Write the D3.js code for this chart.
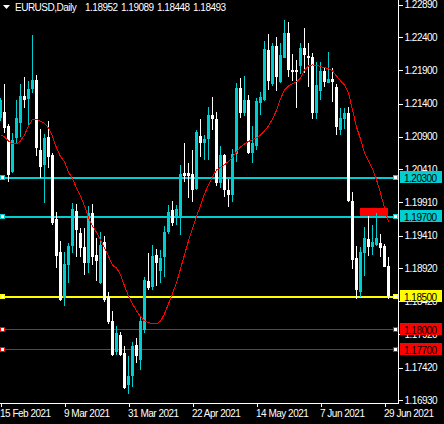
<!DOCTYPE html>
<html>
<head>
<meta charset="utf-8">
<script src="https://cdn.jsdelivr.net/npm/d3@7/dist/d3.min.js"></script>
<style>
  html, body { margin: 0; padding: 0; background: #000; }
  svg { display: block; }
  text { font-family: "Liberation Sans", Arial, sans-serif; font-size: 10px; letter-spacing: -0.5px; }
</style>
</head>
<body>
<svg id="chart" width="444" height="424"></svg>
<script>
// EURUSD daily bars, 15 Feb - 30 Jun 2021
var dates = [
  "2021-02-15","2021-02-16","2021-02-17","2021-02-18","2021-02-19","2021-02-22","2021-02-23","2021-02-24","2021-02-25","2021-02-26",
  "2021-03-01","2021-03-02","2021-03-03","2021-03-04","2021-03-05","2021-03-08","2021-03-09","2021-03-10","2021-03-11","2021-03-12",
  "2021-03-15","2021-03-16","2021-03-17","2021-03-18","2021-03-19","2021-03-22","2021-03-23","2021-03-24","2021-03-25","2021-03-26",
  "2021-03-29","2021-03-30","2021-03-31","2021-04-01","2021-04-02","2021-04-05","2021-04-06","2021-04-07","2021-04-08","2021-04-09",
  "2021-04-12","2021-04-13","2021-04-14","2021-04-15","2021-04-16","2021-04-19","2021-04-20","2021-04-21","2021-04-22","2021-04-23",
  "2021-04-26","2021-04-27","2021-04-28","2021-04-29","2021-04-30","2021-05-03","2021-05-04","2021-05-05","2021-05-06","2021-05-07",
  "2021-05-10","2021-05-11","2021-05-12","2021-05-13","2021-05-14","2021-05-17","2021-05-18","2021-05-19","2021-05-20","2021-05-21",
  "2021-05-24","2021-05-25","2021-05-26","2021-05-27","2021-05-28","2021-05-31","2021-06-01","2021-06-02","2021-06-03","2021-06-04",
  "2021-06-07","2021-06-08","2021-06-09","2021-06-10","2021-06-11","2021-06-14","2021-06-15","2021-06-16","2021-06-17","2021-06-18",
  "2021-06-21","2021-06-22","2021-06-23","2021-06-24","2021-06-25","2021-06-28","2021-06-29","2021-06-30"
];

var open = [
  1.21184,1.21275,1.21064,1.20375,1.20883,1.21113,1.21516,1.21471,1.21621,1.21757,
  1.20702,1.20476,1.20903,1.20627,1.19663,1.19161,1.18468,1.18970,1.19261,1.19788,
  1.19456,1.19236,1.19004,1.19758,1.19120,1.18703,1.19321,1.18492,1.18116,1.17649,
  1.17915,1.17640,1.17162,1.17287,1.17765,1.17539,1.17991,1.18729,1.18643,1.19120,
  1.18884,1.19095,1.19471,1.19798,1.19697,1.19697,1.20360,1.20360,1.20341,1.20110,
  1.20913,1.20803,1.20863,1.21230,1.21165,1.20200,1.20627,1.20100,1.20024,1.20642,
  1.21632,1.21264,1.21456,1.20662,1.20762,1.21410,1.21456,1.22209,1.21697,1.22269,
  1.21731,1.22093,1.22469,1.21907,1.21907,1.21972,1.22243,1.22118,1.22099,1.21255,
  1.21596,1.21897,1.21707,1.21767,1.21647,1.21004,1.21165,1.21255,1.19938,1.19071,
  1.18553,1.19155,1.19357,1.19246,1.19271,1.19306,1.19256,1.18952
];
var high = [
  1.21490,1.21697,1.21094,1.20959,1.21456,1.21697,1.21802,1.21742,1.22435,1.21832,
  1.21019,1.20943,1.21139,1.20662,1.19773,1.19336,1.19161,1.19297,1.19908,1.19884,
  1.19532,1.19523,1.19859,1.19889,1.19372,1.19471,1.19407,1.18553,1.18281,1.18051,
  1.17950,1.17739,1.17599,1.17814,1.17866,1.18191,1.18784,1.19155,1.19271,1.19211,
  1.19196,1.19557,1.19874,1.19938,1.19874,1.20476,1.20812,1.20502,1.20702,1.21004,
  1.21165,1.20928,1.21355,1.21496,1.21279,1.20762,1.20642,1.20261,1.20713,1.21707,
  1.21782,1.21817,1.21531,1.21064,1.21490,1.21576,1.22349,1.22450,1.22310,1.22409,
  1.22310,1.22661,1.22635,1.22149,1.22058,1.22319,1.22536,1.22310,1.22159,1.22033,
  1.22033,1.21957,1.22183,1.21933,1.21697,1.21331,1.21331,1.21355,1.20074,1.19256,
  1.19246,1.19547,1.19708,1.19573,1.19749,1.19437,1.19286,1.19089
];
var low = [
  1.21140,1.20959,1.20224,1.20355,1.20808,1.20903,1.21335,1.21079,1.21561,1.20616,
  1.20280,1.19908,1.20431,1.19573,1.18925,1.18428,1.18342,1.18694,1.19146,1.19095,
  1.19095,1.18819,1.18845,1.18970,1.18733,1.18684,1.18417,1.18081,1.17599,1.17614,
  1.17599,1.17097,1.17026,1.17127,1.17489,1.17377,1.17941,1.18583,1.18593,1.18658,
  1.18703,1.18784,1.19437,1.19562,1.19573,1.19422,1.20224,1.19975,1.19923,1.20100,
  1.20601,1.20552,1.20552,1.21004,1.20160,1.20125,1.19990,1.19848,1.19923,1.20526,
  1.21180,1.21214,1.20642,1.20511,1.20702,1.21230,1.21440,1.21606,1.21666,1.21596,
  1.21716,1.22084,1.21807,1.21746,1.21331,1.21847,1.21867,1.21647,1.21165,1.21165,
  1.21456,1.21647,1.21707,1.21430,1.20928,1.20928,1.21014,1.19923,1.18905,1.18453,
  1.18483,1.18804,1.19105,1.19120,1.19256,1.19086,1.18935,1.18448
];
var close = [
  1.21456,1.21034,1.20326,1.20853,1.21184,1.21516,1.21456,1.21621,1.21757,1.20728,
  1.20451,1.20883,1.20601,1.19603,1.19110,1.18443,1.18985,1.19256,1.19813,1.19497,
  1.19221,1.18995,1.19758,1.19095,1.19035,1.19271,1.18443,1.18101,1.17614,1.17941,
  1.17614,1.17112,1.17287,1.17750,1.17588,1.18116,1.18744,1.18619,1.19105,1.19004,
  1.19071,1.19462,1.19773,1.19598,1.19813,1.20341,1.20311,1.20311,1.20100,1.20978,
  1.20803,1.20863,1.21230,1.21165,1.20210,1.20627,1.20100,1.20024,1.20642,1.21632,
  1.21264,1.21456,1.20662,1.20803,1.21440,1.21505,1.22219,1.21746,1.22269,1.21798,
  1.22133,1.22469,1.21907,1.21882,1.21882,1.22243,1.22133,1.22084,1.21255,1.21681,
  1.21897,1.21731,1.21767,1.21731,1.21053,1.21180,1.21255,1.19938,1.19045,1.18583,
  1.19170,1.19372,1.19246,1.19321,1.19372,1.19221,1.18944,1.18493
];
// moving average (red line)
var ma = [
  1.20928,1.20898,1.20838,1.20793,1.20793,1.20838,1.20928,1.21064,1.21162,1.21162,
  1.21132,1.21101,1.21034,1.20906,1.20732,1.20604,1.20521,1.20371,1.20265,1.20130,
  1.20009,1.19859,1.19678,1.19557,1.19459,1.19339,1.19226,1.19098,1.18962,1.18925,
  1.18819,1.18653,1.18503,1.18382,1.18277,1.18187,1.18126,1.18096,1.18089,1.18081,
  1.18119,1.18232,1.18382,1.18540,1.18699,1.18910,1.19120,1.19331,1.19512,1.19700,
  1.19859,1.20039,1.20175,1.20296,1.20401,1.20439,1.20476,1.20529,1.20589,1.20672,
  1.20747,1.20793,1.20830,1.20853,1.20883,1.20928,1.20989,1.21064,1.21169,1.21297,
  1.21471,1.21606,1.21666,1.21697,1.21727,1.21787,1.21907,1.21968,1.21983,1.21978,
  1.21957,1.21945,1.21923,1.21893,1.21817,1.21742,1.21681,1.21561,1.21305,1.21049,
  1.20868,1.20657,1.20537,1.20416,1.20250,1.20055,1.19828,1.19618
];

var priceTicks = [1.2289, 1.224, 1.219, 1.214, 1.209, 1.2041, 1.1991, 1.1941, 1.1892, 1.1842, 1.1792, 1.1742, 1.1693];
var dateTicks = ["2021-02-15", "2021-03-09", "2021-03-31", "2021-04-22", "2021-05-14", "2021-06-07", "2021-06-29"];

var levels = [1.203, 1.197, 1.185, 1.18, 1.177];
var levelColors = ["#00ced1", "#00ced1", "#ffff00", "#ff0000", "#ff0000"];

var zoneDates = ["2021-06-21", "2021-06-30"];
var zonePrices = [1.1983, 1.1971];

var titleParts = ["EURUSD,Daily", "1.18952", "1.19089", "1.18448", "1.18493"];

var svg = d3.select('#chart');
var W = 444, H = 424;
var axisX = 398, axisY = 403;

svg.append('rect').attr('width', W).attr('height', H).attr('fill', '#000');

var x = d3.scaleLinear().domain([0, dates.length - 1]).range([0.5, 0.5 + 4 * (dates.length - 1)]);
var y = d3.scaleLinear().domain([1.16887, 1.22962]).range([axisY, 0]);
var parse = d3.timeParse('%Y-%m-%d');
var fmt = d3.timeFormat('%-d %b %Y');

var plot = svg.append('g').attr('shape-rendering', 'crispEdges');

// horizontal levels
plot.selectAll('line.level')
  .data(levels)
  .enter().append('line')
  .attr('class', 'level')
  .attr('x1', 0).attr('x2', axisX)
  .attr('y1', d => Math.round(y(d)) + 0.5)
  .attr('y2', d => Math.round(y(d)) + 0.5)
  .attr('stroke', (d, i) => levelColors[i])
  .attr('stroke-width', (d, i) => levelColors[i] == '#ff0000' ? 1 : 2);

// red zone
var z0 = dates.indexOf(zoneDates[0]), z1 = dates.indexOf(zoneDates[1]);
plot.append('rect')
  .attr('x', x(z0) - 0.5)
  .attr('width', x(z1) - x(z0))
  .attr('y', Math.round(y(zonePrices[0])))
  .attr('height', Math.round(y(zonePrices[1])) - Math.round(y(zonePrices[0])))
  .attr('fill', '#ff0000');

// moving average
var maLine = d3.line().x((d, i) => x(i)).y(d => y(d));
svg.append('path')
  .datum(ma)
  .attr('d', maLine)
  .attr('fill', 'none')
  .attr('stroke', '#ff0000')
  .attr('stroke-width', 1)
  .attr('shape-rendering', 'crispEdges');

// candles
var idx = d3.range(dates.length);
var col = i => close[i] > open[i] ? '#00ced1' : '#ffffff';
var candles = plot.append('g').selectAll('g').data(idx).enter().append('g');
candles.append('rect')
  .attr('x', i => x(i) - 0.5)
  .attr('width', 1)
  .attr('y', i => Math.round(y(high[i])))
  .attr('height', i => Math.max(1, Math.round(y(low[i])) - Math.round(y(high[i]))))
  .attr('fill', col);
candles.append('rect')
  .attr('x', i => x(i) - 1.5)
  .attr('width', 3)
  .attr('y', i => Math.round(y(Math.max(open[i], close[i]))))
  .attr('height', i => Math.max(1, Math.round(y(Math.min(open[i], close[i]))) - Math.round(y(Math.max(open[i], close[i])))))
  .attr('fill', col);

// axes frame
svg.append('line').attr('x1', 0).attr('x2', axisX + 0.5).attr('y1', axisY + 0.5).attr('y2', axisY + 0.5)
  .attr('stroke', '#fff').attr('shape-rendering', 'crispEdges');
svg.append('line').attr('x1', axisX + 0.5).attr('x2', axisX + 0.5).attr('y1', 0).attr('y2', axisY + 0.5)
  .attr('stroke', '#fff').attr('shape-rendering', 'crispEdges');

var yAxis = svg.append('g')
  .attr('transform', 'translate(' + (axisX + 0.5) + ',0)')
  .call(d3.axisRight(y).tickValues(priceTicks).tickSize(4).tickPadding(2).tickFormat(d3.format('.5f')));
yAxis.select('.domain').remove();
yAxis.selectAll('line').attr('stroke', '#fff').attr('shape-rendering', 'crispEdges');
yAxis.selectAll('text').attr('fill', '#fff').attr('font-size', null).attr('font-family', null);

var xAxis = svg.append('g')
  .attr('transform', 'translate(0,' + (axisY + 0.5) + ')')
  .call(d3.axisBottom(x).tickValues(dateTicks.map(d => dates.indexOf(d))).tickSize(3)
    .tickFormat(i => fmt(parse(dates[i]))));
xAxis.select('.domain').remove();
xAxis.selectAll('line').attr('stroke', '#fff').attr('shape-rendering', 'crispEdges');
xAxis.selectAll('text').attr('fill', '#fff').attr('text-anchor', 'start').attr('x', -1)
  .attr('font-size', null).attr('font-family', null);

// level markers and price boxes
levels.forEach(function (lv, i) {
  var ly = Math.round(y(lv)) + 0.5;
  svg.append('rect').attr('x', 0.5).attr('y', ly - 2).attr('width', 4).attr('height', 4)
    .attr('fill', '#fff').attr('stroke', levelColors[i]).attr('shape-rendering', 'crispEdges');
  svg.append('rect').attr('x', axisX - 4.5).attr('y', ly - 2).attr('width', 4).attr('height', 4)
    .attr('fill', '#fff').attr('stroke', levelColors[i]).attr('shape-rendering', 'crispEdges');
  svg.append('rect').attr('x', axisX + 2).attr('y', ly - 6.5).attr('width', 42).attr('height', 12)
    .attr('fill', levelColors[i]);
  svg.append('text').attr('x', axisX + 6).attr('y', ly + 4).attr('fill', '#000')
    .text(d3.format('.5f')(lv));
});

// title
svg.append('path').attr('d', 'M3,5 L10,5 L6.5,9 Z').attr('fill', '#fff');
var titleX = [15, 85, 121, 157, 193];
svg.selectAll('text.title').data(titleParts).enter().append('text')
  .attr('class', 'title')
  .attr('x', (d, i) => titleX[i]).attr('y', 11)
  .attr('fill', '#fff')
  .text(d => d);
</script>
</body>
</html>
